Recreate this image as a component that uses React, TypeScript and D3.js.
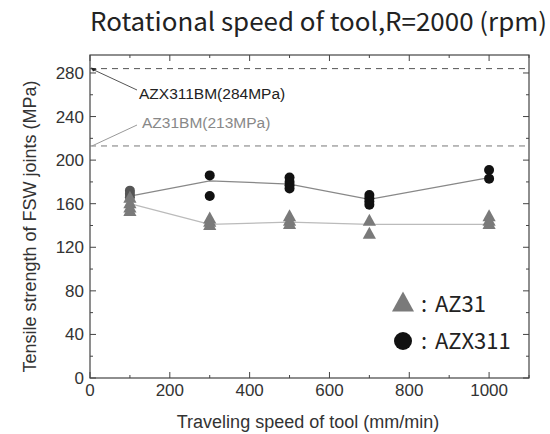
import React from "react";
import * as d3 from "d3";

const speeds = [100, 300, 500, 700, 1000];
const azx311Mean = [167, 181, 178, 164, 184];
const az31Mean = [160, 141, 143, 141, 141];
const azx311Points: [number, number][] = [
  [100, 172], [100, 169], [100, 166],
  [300, 186], [300, 167],
  [500, 184], [500, 180], [500, 177], [500, 174],
  [700, 168], [700, 165], [700, 162], [700, 159],
  [1000, 191], [1000, 183],
];
const az31Points: [number, number][] = [
  [100, 165], [100, 160], [100, 156], [100, 153],
  [300, 146], [300, 143], [300, 140],
  [500, 148], [500, 144], [500, 141],
  [700, 144], [700, 132],
  [1000, 148], [1000, 144], [1000, 141],
];
const baseMetals = [284, 213];
const xTicksMajor = [0, 200, 400, 600, 800, 1000];
const yTicksMajor = [0, 40, 80, 120, 160, 200, 240, 280];

const W = 550, H = 434;
const L = 90, R = 529, T = 55, B = 378;

export default function App() {
  const x = d3.scaleLinear().domain([0, 1100]).range([L, R]);
  const y = d3.scaleLinear().domain([0, 296.5]).range([B, T]);
  const line = d3.line<number>().x((_, i) => x(speeds[i])).y((d) => y(d));
  const xMinor = d3.range(0, 1101, 100);
  const yMinor = d3.range(0, 297, 20);
  const tri = (cx: number, cy: number, s: number) =>
    `M${cx},${cy - s * 0.62}L${cx + s * 0.55},${cy + s * 0.38}L${cx - s * 0.55},${cy + s * 0.38}Z`;
  const tickFont = "'Liberation Sans', Arial, sans-serif";
  const jpFont = "'Noto Sans CJK JP', 'Noto Sans', sans-serif";
  return (
    <svg width={W} height={H} style={{ position: "absolute", left: 0, top: 0, background: "#fff" }}>
      <rect width={W} height={H} fill="#fff" />
      <text x={90} y={31} textLength={457} lengthAdjust="spacingAndGlyphs" fontFamily={jpFont} fontSize={25} fill="#222">
        Rotational speed of tool,R=2000 (rpm)
      </text>
      {/* frame */}
      <rect x={L} y={T} width={R - L} height={B - T} fill="none" stroke="#444" strokeWidth={1.2} />
      {xMinor.map((v) => {
        const len = v % 200 === 0 ? 6 : 3;
        return (
          <g key={"x" + v}>
            <line x1={x(v)} x2={x(v)} y1={B} y2={B - len} stroke="#444" />
            <line x1={x(v)} x2={x(v)} y1={T} y2={T + len} stroke="#444" />
          </g>
        );
      })}
      {yMinor.map((v) => {
        const len = v % 40 === 0 ? 6 : 3;
        return (
          <g key={"y" + v}>
            <line x1={L} x2={L + len} y1={y(v)} y2={y(v)} stroke="#444" />
            <line x1={R} x2={R - len} y1={y(v)} y2={y(v)} stroke="#444" />
          </g>
        );
      })}
      {xTicksMajor.map((v) => (
        <text key={"xl" + v} x={x(v)} y={B + 18} textAnchor="middle" fontFamily={tickFont} fontSize={17} fill="#333">
          {v}
        </text>
      ))}
      {yTicksMajor.map((v) => (
        <text key={"yl" + v} x={L - 6} y={y(v) + 6} textAnchor="end" fontFamily={tickFont} fontSize={17} fill="#333">
          {v}
        </text>
      ))}
      <text x={308} y={428} textAnchor="middle" fontFamily={tickFont} fontSize={18} fill="#333">
        Traveling speed of tool (mm/min)
      </text>
      <text transform={`translate(36,${(T + B) / 2 + 10}) rotate(-90)`} textAnchor="middle" fontFamily={tickFont} fontSize={18} fill="#333">
        Tensile strength of FSW joints (MPa)
      </text>
      {/* base metal dashed lines */}
      {baseMetals.map((v, i) => (
        <line key={"bm" + v} x1={L} x2={R} y1={y(v)} y2={y(v)} stroke={i === 0 ? "#555" : "#777"} strokeWidth={1} strokeDasharray="6,5" />
      ))}
      <line x1={L + 1} y1={y(284)} x2={137} y2={90} stroke="#555" strokeWidth={1} />
      <path d={`M${L + 1},${y(284) - 1}l6,1.5l-4,2.5z`} fill="#222" />
      <text x={139} y={99} fontFamily={tickFont} fontSize={15.5} fill="#222">
        AZX311BM(284MPa)
      </text>
      <line x1={L + 2} y1={y(213)} x2={137} y2={125} stroke="#999" strokeWidth={1} />
      <text x={142} y={128} fontFamily={tickFont} fontSize={15.5} fill="#888">
        AZ31BM(213MPa)
      </text>
      {/* lines */}
      <path d={line(azx311Mean) || ""} fill="none" stroke="#888" strokeWidth={1.3} />
      <path d={line(az31Mean) || ""} fill="none" stroke="#bbb" strokeWidth={1.3} />
      {azx311Points.map(([sx, v], i) => (
        <circle key={"c" + i} cx={x(sx)} cy={y(v)} r={5} fill={sx === 100 ? "#555" : "#111"} />
      ))}
      {az31Points.map(([sx, v], i) => (
        <path key={"t" + i} d={tri(x(sx), y(v), 12)} fill="#7a7a7a" />
      ))}
      {/* legend */}
      <path d={tri(403, 304, 20)} fill="#7a7a7a" />
      <text x={421} y={312} fontFamily={jpFont} fontSize={22} fill="#222">:</text>
      <text x={435} y={312} fontFamily={jpFont} fontSize={22} fill="#222">AZ31</text>
      <circle cx={403} cy={341} r={9} fill="#111" />
      <text x={421} y={349} fontFamily={jpFont} fontSize={22} fill="#222">:</text>
      <text x={435} y={349} fontFamily={jpFont} fontSize={22} fill="#222">AZX311</text>
    </svg>
  );
}
